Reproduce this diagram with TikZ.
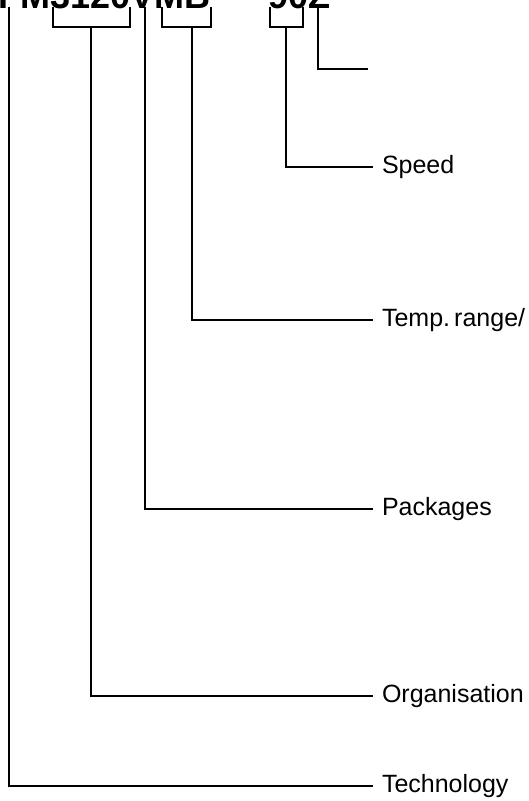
\documentclass[tikz,border=0pt]{standalone}
\usepackage{fontspec}
\setmainfont{Liberation Sans}
\begin{document}
\begin{tikzpicture}[x=1pt,y=-1pt,line width=1.8pt,
	lbl/.style={anchor=west,inner sep=0pt,outer xsep=9pt,font=\fontsize{25}{30}\selectfont},
	code/.style={anchor=base west,inner sep=0pt,font=\fontsize{36}{40}\selectfont\bfseries}]
	\useasboundingbox (0,0) rectangle (529,801);
	
	% part number along the top
	\node[code] (pn) at (-2,8) {FM3120VMB};
	\node[code] (sfx) at (268,8) {90Z};
	
	\node[lbl] (speed) at (373,167) {Speed};
	\node[lbl] (temp) at (373,320) {Temp.\,range/};
	\node[lbl] (pkg) at (373,509) {Packages};
	\node[lbl] (org) at (373,696) {Organisation};
	\node[lbl] (tech) at (373,786) {Technology};
	
	% ends of the brackets under the characters
	\foreach \n/\x in {t/9,oa/53,ob/130,p/145,ta/162,tb/211,sa/270,sb/303,z/318}
		\coordinate (\n) at (\x,7);
	\coordinate (om) at (91,27);
	\coordinate (tm) at (192,27);
	\coordinate (sm) at (286,27);
	\coordinate (zend) at (368,69);
	
	\draw (oa) -- ++(0,20) -| (ob);
	\draw (ta) -- ++(0,20) -| (tb);
	\draw (sa) -- ++(0,20) -| (sb);
	
	\draw (t) |- (tech.west);
	\draw (om) |- (org.west);
	\draw (p) |- (pkg.west);
	\draw (tm) |- (temp.west);
	\draw (sm) |- (speed.west);
	\draw (z) |- (zend);
\end{tikzpicture}
\end{document}
